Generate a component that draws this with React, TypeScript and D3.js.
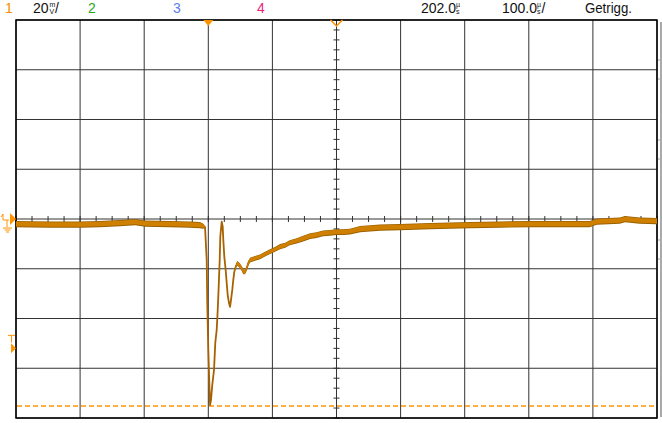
import * as d3 from 'd3'

// time in µs relative to trigger, voltage in mV (20 mV/div, 100 µs/div)
const timeUs = [
  -300, -247, -200, -169, -138, -114, -99, -60, -29, -13, -8.3, -5.1, -2.5, -1.6, 0, 1.6, 2.7,
  4.2, 6.2, 8.9, 10.9, 13.1, 14.7, 16.2, 17.8, 18.7, 20.9, 22.5, 23.4, 25, 27.1, 28.7, 30.3,
  32.3, 33.9, 35.4, 37.4, 39, 40.6, 42.7, 45.2, 48.4, 52.1, 54.6, 57.3, 59.9, 62.4, 65.1, 72.9,
  80.7, 88.5, 96.3, 104, 112, 120, 127, 138, 148, 159, 169, 179, 190, 200, 211, 221, 237, 268,
  299, 346, 408, 455, 502, 549, 595, 606, 642, 650, 673, 700,
]
const voltMv = [
  -2.0, -2.2, -2.2, -2.0, -1.6, -1.2, -1.8, -2.0, -2.2, -2.4, -2.8, -3.2, -16.5, -33.8, -52.7,
  -65.9, -74.8, -72.8, -66.7, -60.7, -49.8, -44.6, -36.6, -27.3, -16.5, -7.2, -1.1, -3.1, -8.4,
  -15.2, -20.5, -25.7, -30.6, -33.8, -35.3, -32.6, -28.5, -24.5, -21.2, -19.2, -17.8, -18.5,
  -19.8, -21.2, -21.2, -19.8, -17.8, -16.5, -15.8, -15.2, -14.1, -13.1, -12.2, -11.1, -10.5,
  -9.5, -8.7, -7.8, -6.8, -6.4, -5.7, -5.5, -5.2, -5.2, -5.0, -4.0, -3.4, -3.2, -2.8, -2.4, -2.2,
  -2.0, -2.0, -2.0, -1.0, -0.6, 0, -0.6, -0.8,
]
// half width of the noise band (mV)
const noiseMv = [
  1.1, 1.1, 1.1, 1.1, 1.1, 1.1, 1.1, 1.1, 1.1, 1.1, 0.9, 0.3, 0, 0, 0, 0, 0, 0, 0, 0, 0, 0, 0, 0,
  0, 0, 0, 0, 0, 0, 0, 0, 0, 0, 0, 0, 0, 0, 0.2, 0.5, 0.8, 0.8, 0.8, 0.8, 0.8, 0.8, 0.8, 0.8,
  0.8, 0.8, 0.8, 0.8, 0.8, 0.9, 0.9, 0.9, 0.9, 1.0, 1.0, 1.0, 1.0, 1.0, 1.0, 1.0, 1.0, 1.1, 1.1,
  1.1, 1.1, 1.1, 1.1, 1.1, 1.1, 1.1, 1.1, 1.1, 1.1, 1.1, 1.1,
]

const timeTicks = d3.range(-300, 701, 100)
const voltTicks = d3.range(-80, 81, 20)
const triggerLevelMv = -52
const cursorMv = -75.2

const width = 662
const height = 423

export default function App() {
  const x = d3.scaleLinear([-300, 700], [16, 657])
  const y = d3.scaleLinear([-80, 80], [418, 20])

  const pts = timeUs.map((t, i) => ({ t, v: voltMv[i], n: noiseMv[i] }))

  const line = d3.line<{ t: number; v: number }>().x((d) => x(d.t)).y((d) => y(d.v))
  const outer = d3
    .area<{ t: number; v: number; n: number }>()
    .x((d) => x(d.t))
    .y0((d) => y(d.v - d.n - 0.2))
    .y1((d) => y(d.v + d.n + 0.1))
  const inner = d3
    .area<{ t: number; v: number; n: number }>()
    .x((d) => x(d.t))
    .y0((d) => y(d.v - d.n * 0.85))
    .y1((d) => y(d.v + d.n * 0.85))

  const x0 = x(0)
  const xc = x(200)
  const y0 = y(0)
  const yt = y(triggerLevelMv)
  const font = 'Liberation Sans, Arial, sans-serif'

  return (
    <svg
      width={width}
      height={height}
      style={{ position: 'absolute', left: 0, top: 0, background: '#fff' }}
    >
      {/* grid */}
      {timeTicks.map((t) => (
        <line key={'v' + t} x1={x(t)} x2={x(t)} y1={y(80)} y2={y(-80)} stroke="#333" strokeWidth={1} />
      ))}
      {voltTicks.map((v) => (
        <line key={'h' + v} x1={x(-300)} x2={x(700)} y1={y(v)} y2={y(v)} stroke="#333" strokeWidth={1} />
      ))}
      {d3.range(-300, 701, 25).map((t) => (
        <line key={'mt' + t} x1={x(t)} x2={x(t)} y1={y0 - 3} y2={y0 + 3} stroke="#333" />
      ))}
      {d3.range(-80, 81, 4).map((v) => (
        <line key={'mv' + v} x1={xc - 3} x2={xc + 3} y1={y(v)} y2={y(v)} stroke="#333" />
      ))}
      <rect x={x(-300)} y={y(80)} width={x(700) - x(-300)} height={y(-80) - y(80)} fill="none" stroke="#000" strokeWidth={1.5} />

      {/* right side bar */}
      <line x1={661} x2={661} y1={22} y2={417} stroke="#aaa" strokeWidth={2} />
      {[60, 79, 140, 159, 240, 259].map((yy) => (
        <line key={'r' + yy} x1={658} x2={660} y1={yy} y2={yy} stroke="#aaa" />
      ))}

      {/* cursor line */}
      <line x1={x(-300) + 1} x2={x(700) - 1} y1={y(cursorMv)} y2={y(cursorMv)} stroke="#ff9400" strokeWidth={1.5} strokeDasharray="5,3" />

      {/* trace */}
      <path d={line(pts) as string} fill="none" stroke="#a86200" strokeWidth={1.8} strokeLinejoin="round" />
      <path d={outer(pts) as string} fill="#9a6000" />
      <path d={inner(pts) as string} fill="#d08000" />

      {/* markers */}
      <polygon points={`${x0 - 5},20 ${x0 + 5},20 ${x0},26`} fill="#ff9400" />
      <polyline points={`${xc - 6},20 ${xc},26 ${xc + 6},20`} fill="none" stroke="#ff9400" strokeWidth={1.5} />
      <polygon points={`10,${y0 - 6} 16,${y0} 10,${y0 + 6}`} fill="#ff9400" />
      <path
        d={`M1,${y0 - 2} L3,${y0 - 5} L3,${y0 + 1} M3,${y0 + 1} L9,${y0 + 1} M7,${y0 + 1} L7,${y0 + 8} M3,${y0 + 9} L12,${y0 + 9} M4.5,${y0 + 11} L10.5,${y0 + 11} M6,${y0 + 13} L9,${y0 + 13}`}
        stroke="#ff9400"
        strokeWidth={1}
        fill="none"
      />
      <path d={`M8,${yt - 13} L15,${yt - 13} M11.5,${yt - 13} L11.5,${yt - 6}`} stroke="#ff9400" fill="none" />
      <polygon points={`11,${yt - 5} 16,${yt} 11,${yt + 5}`} fill="#ff9400" />

      {/* header */}
      <g fontFamily={font} fontSize={14}>
        <text x={5} y={13} fill="#f09000">1</text>
        <text x={33} y={13} fill="#111">
          20
          <tspan fontSize={7} dx={1} dy={-6}>m</tspan>
          <tspan fontSize={7} dx={-6} dy={6.5}>V</tspan>
          <tspan dx={1} dy={-0.5}>/</tspan>
        </text>
        <text x={88} y={13} fill="#2aa81c">2</text>
        <text x={173} y={13} fill="#5b7fe8">3</text>
        <text x={257} y={13} fill="#ea1f7c">4</text>
        <text x={421} y={13} fill="#111">
          202.0
          <tspan fontSize={7} dx={0} dy={-6}>µ</tspan>
          <tspan fontSize={7} dx={-4} dy={6.5}>s</tspan>
        </text>
        <text x={502} y={13} fill="#111">
          100.0
          <tspan fontSize={7} dx={0} dy={-6}>µ</tspan>
          <tspan fontSize={7} dx={-4} dy={6.5}>s</tspan>
          <tspan dx={1} dy={-0.5}>/</tspan>
        </text>
        <text x={585} y={13} fill="#111" textLength={47} lengthAdjust="spacingAndGlyphs">Getrigg.</text>
      </g>
    </svg>
  )
}
